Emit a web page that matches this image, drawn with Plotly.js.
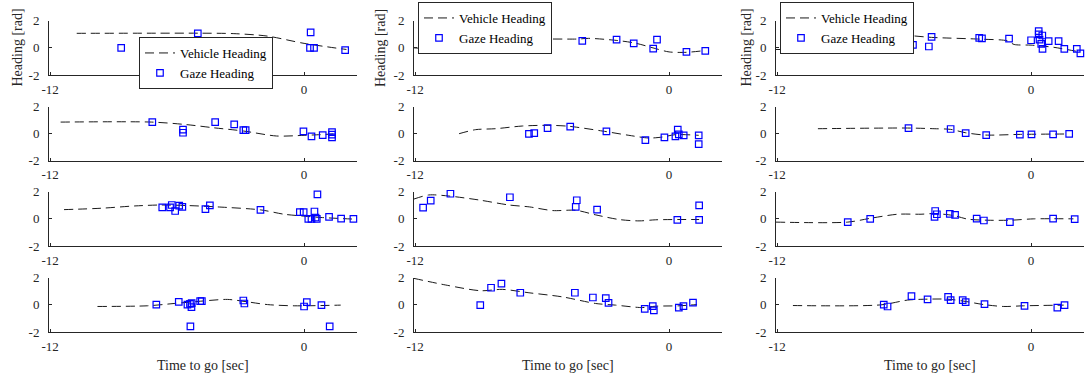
<!DOCTYPE html>
<html>
<head>
<meta charset="utf-8">
<script src="https://cdn.plot.ly/plotly-3.0.1.min.js"></script>
<style>html,body{margin:0;padding:0;background:#fff;}#chart{width:1086px;height:380px;}</style>
</head>
<body>
<div id="chart"></div>
<script>
// ---- Data (time to go [sec], heading [rad]) ----
const xTicks = [-12, 0];
const yTicks = [-2, 0, 2];
const legendNames = ["Vehicle Heading", "Gaze Heading"];

// Row 1
const vehT_1_1 = [-10.74, -7, -5, -3.35, -1.75, 0, 2.0];
const vehH_1_1 = [1.07, 1.08, 1.08, 1.05, 0.87, 0.33, -0.12];
const gazeT_1_1 = [-8.64, -5.02, 0.31, 0.28, 0.47, 1.94];
const gazeH_1_1 = [0, 1.07, 1.14, 0, 0, -0.17];

const vehT_1_2 = [-12.05, -10.2, -8.5, -7.1, -6.3, -4.3, -3.8, -2.5, -1.6, -0.65, 0, 0.8, 1.7];
const vehH_1_2 = [0, -0.15, 0, 0.4, 0.62, 0.65, 0.7, 0.55, 0.35, -0.05, -0.3, -0.33, -0.2];
const gazeT_1_2 = [-7.14, -4.1, -2.48, -1.67, -0.75, -0.57, 0.82, 1.71];
const gazeH_1_2 = [-0.17, 0.52, 0.6, 0.33, -0.05, 0.6, -0.3, -0.22];

const vehT_1_3 = [-12.05, -9.74, -8.97, -7.5, -6.3, -5.8, -4.7, -2.4, -1.13, -0.8, 0, 1.07, 2.3];
const vehH_1_3 = [-0.12, -0.1, 0.07, 0.37, 0.86, 0.9, 0.77, 0.64, 0.52, 0.25, 0.2, 0.04, -0.3];
const gazeT_1_3 = [-9.65, -9.13, -9.05, -8.97, -7.48, -5.58, -4.83, -4.7, -2.45, -2.32, -1.04, 0, 0.36, 0.36, 0.53, 0.4, 0.48, 0.54, 0.83, 1.3, 1.57, 2.16, 2.33];
const gazeH_1_3 = [-0.07, -0.05, -0.1, -0.15, 0.27, 0.22, 0.1, 0.81, 0.73, 0.7, 0.68, 0.56, 1.23, 0.99, 0.91, 0.6, 0.3, -0.07, 0.5, 0.5, -0.07, -0.07, -0.4];

// Row 2
const vehT_2_1 = [-11.5, -7.2, -5.54, -4.28, -2.87, -1.3, 0, 0.76, 1.39];
const vehH_2_1 = [0.86, 0.86, 0.67, 0.44, 0.2, -0.17, -0.12, -0.07, -0.02];
const gazeT_2_1 = [-7.17, -5.72, -5.72, -4.2, -3.3, -2.87, -2.76, -0.03, 0.35, 0.88, 1.32, 1.32, 1.32];
const gazeH_2_1 = [0.86, 0.3, 0.07, 0.86, 0.69, 0.27, 0.27, 0.17, -0.2, -0.1, 0.12, -0.07, -0.27];

const vehT_2_2 = [-9.92, -9.14, -8.2, -6.93, -5.68, -4.73, -3.16, -1.9, -0.96, -0.33, 0.3, 1.4];
const vehH_2_2 = [0, 0.3, 0.37, 0.57, 0.62, 0.55, 0.2, -0.12, -0.32, -0.25, -0.07, -0.12];
const gazeT_2_2 = [-6.62, -6.37, -5.74, -4.67, -2.96, -1.12, -0.22, 0.3, 0.41, 0.46, 0.69, 1.4, 1.4];
const gazeH_2_2 = [-0.02, 0.05, 0.42, 0.52, 0.17, -0.47, -0.27, -0.2, 0.3, -0.05, -0.12, -0.12, -0.77];

const vehT_2_3 = [-10.07, -5.84, -4.58, -3.8, -3.09, -2.15, -0.5, 1.77];
const vehH_2_3 = [0.37, 0.42, 0.37, 0.32, 0.07, -0.1, -0.05, -0.02];
const gazeT_2_3 = [-5.79, -3.8, -3.09, -2.12, -0.53, 0.02, 1.04, 1.8];
const gazeH_2_3 = [0.42, 0.35, 0.05, -0.1, -0.07, -0.05, -0.05, -0.02];

// Row 3
const vehT_3_1 = [-11.34, -9.6, -8.0, -6.77, -5.5, -4.1, -2.05, -0.95, -0.16, 0.8, 2.36];
const vehH_3_1 = [0.68, 0.78, 0.95, 1.02, 0.98, 0.88, 0.66, 0.34, 0.22, 0.1, -0.02];
const gazeT_3_1 = [-6.7, -6.33, -6.25, -6.09, -5.9, -5.75, -4.66, -4.45, -2.06, -0.2, -0.02, 0.2, 0.35, 0.49, 0.54, 0.63, 0.6, 1.18, 1.75, 2.33];
const gazeH_3_1 = [0.85, 0.85, 1.02, 0.58, 0.98, 0.88, 0.71, 1.0, 0.66, 0.49, 0.49, 0, 0, 0.54, 0.1, 1.8, 0, 0.15, 0.02, 0];

const vehT_3_2 = [-12.05, -11.35, -10.4, -8.98, -7.56, -6.6, -5.5, -4.4, -3.46, -2.36, -1.42, -0.63, 0.39, 1.42];
const vehH_3_2 = [1.46, 1.76, 1.68, 1.39, 1.02, 0.88, 0.61, 0.63, 0.29, -0.05, -0.15, -0.07, -0.05, -0.05];
const gazeT_3_2 = [-11.62, -11.26, -10.33, -7.52, -4.41, -4.36, -3.4, 0.39, 1.42, 1.42];
const gazeH_3_2 = [0.83, 1.34, 1.85, 1.59, 0.88, 1.37, 0.68, -0.07, -0.07, 1.0];

const vehT_3_3 = [-12.05, -8.66, -7.56, -6.3, -5.2, -4.58, -3.64, -3.0, -2.07, -0.97, 0.13, 2.0];
const vehH_3_3 = [-0.24, -0.24, 0.05, 0.34, 0.34, 0.39, 0.24, -0.02, -0.1, -0.1, 0, 0];
const gazeT_3_3 = [-8.66, -7.6, -4.53, -4.56, -4.45, -3.84, -3.59, -2.57, -2.23, -1.0, 1.04, 2.06];
const gazeH_3_3 = [-0.24, 0, 0.58, 0.15, 0.34, 0.37, 0.29, 0.02, -0.12, -0.24, 0.02, -0.02];

// Row 4
const vehT_4_1 = [-9.76, -7.4, -6.14, -4.88, -3.62, -2.68, -1.73, -0.47, 1.73];
const vehH_4_1 = [-0.12, -0.07, 0.1, 0.27, 0.4, 0.22, 0.02, -0.07, -0.02];
const gazeT_4_1 = [-6.98, -5.92, -5.51, -5.39, -5.31, -5.32, -5.37, -4.91, -4.83, -2.87, -2.82, 0, 0.13, 0.82, 1.21];
const gazeH_4_1 = [0.02, 0.22, 0.02, 0.07, 0.12, -0.17, -1.58, 0.27, 0.27, 0.32, 0.1, -0.12, 0.2, -0.02, -1.58];

const vehT_4_2 = [-12.05, -10.55, -8.9, -7.88, -6.62, -5.05, -3.47, -2.53, -1.27, -0.64, 0.46, 1.32];
const vehH_4_2 = [1.95, 1.46, 1.04, 1.14, 0.89, 0.59, 0.1, -0.02, -0.2, -0.1, -0.07, 0.02];
const gazeT_4_2 = [-8.92, -8.41, -7.92, -7.03, -4.45, -3.6, -2.99, -2.86, -1.15, -0.77, -0.72, 0.46, 0.68, 1.13];
const gazeH_4_2 = [-0.02, 1.26, 1.56, 0.89, 0.89, 0.54, 0.49, 0.15, -0.3, -0.1, -0.4, -0.2, -0.1, 0.17];

const vehT_4_3 = [-11.25, -7.09, -5.84, -4.9, -3.95, -3.17, -2.23, -1.29, -0.35, 1.54];
const vehH_4_3 = [-0.05, 0, 0.35, 0.42, 0.42, 0.27, 0.02, -0.12, -0.07, -0.02];
const gazeT_4_3 = [-6.96, -6.78, -5.65, -4.89, -3.92, -3.8, -3.23, -3.09, -2.2, -0.31, 1.24, 1.58];
const gazeH_4_3 = [0.02, -0.12, 0.64, 0.4, 0.59, 0.35, 0.35, 0.2, 0.05, -0.07, -0.2, -0.02];

const panels = [
  [vehT_1_1, vehH_1_1, gazeT_1_1, gazeH_1_1], [vehT_1_2, vehH_1_2, gazeT_1_2, gazeH_1_2], [vehT_1_3, vehH_1_3, gazeT_1_3, gazeH_1_3],
  [vehT_2_1, vehH_2_1, gazeT_2_1, gazeH_2_1], [vehT_2_2, vehH_2_2, gazeT_2_2, gazeH_2_2], [vehT_2_3, vehH_2_3, gazeT_2_3, gazeH_2_3],
  [vehT_3_1, vehH_3_1, gazeT_3_1, gazeH_3_1], [vehT_3_2, vehH_3_2, gazeT_3_2, gazeH_3_2], [vehT_3_3, vehH_3_3, gazeT_3_3, gazeH_3_3],
  [vehT_4_1, vehH_4_1, gazeT_4_1, gazeH_4_1], [vehT_4_2, vehH_4_2, gazeT_4_2, gazeH_4_2], [vehT_4_3, vehH_4_3, gazeT_4_3, gazeH_4_3]
];

// ---- Layout geometry (pixels) ----
const W = 1086, H = 380;
const colPx = [[49, 357], [414, 722], [776, 1084]];
const rowPx = [[20.7, 75], [106.7, 160.7], [191.7, 246], [277.7, 332]];
const xRange = [-12.05, 2.5];
const yRange = [-2, 2];
const axisColor = '#262626';
const FONT = '"Liberation Serif", "Times New Roman", serif';

const traces = [];
const layout = {
  width: W, height: H,
  margin: {l: 0, r: 0, t: 0, b: 0},
  paper_bgcolor: '#fff', plot_bgcolor: 'rgba(0,0,0,0)',
  font: {family: FONT, size: 13, color: axisColor},
  annotations: [],
  showlegend: true
};

panels.forEach((p, k) => {
  const r = Math.floor(k / 3), c = k % 3;
  const n = k + 1;
  const xa = 'x' + (n === 1 ? '' : n), ya = 'y' + (n === 1 ? '' : n);
  const legendId = r === 0 ? (c === 0 ? 'legend' : 'legend' + (c + 1)) : 'legend';
  const show = r === 0;
  traces.push({
    x: p[0], y: p[1], xaxis: xa, yaxis: ya, type: 'scatter', mode: 'lines',
    line: {color: '#1a1a1a', width: 1, dash: '9px,5px', shape: 'spline', smoothing: 0.8},
    name: legendNames[0], showlegend: show, legend: legendId, hoverinfo: 'skip'
  });
  traces.push({
    x: p[2], y: p[3], xaxis: xa, yaxis: ya, type: 'scatter', mode: 'markers',
    marker: {symbol: 'square-open', size: 6.5, color: '#0000ff', line: {color: '#0000ff', width: 1.2}},
    name: legendNames[1], showlegend: show, legend: legendId, hoverinfo: 'skip', cliponaxis: false
  });
  const xName = 'xaxis' + (n === 1 ? '' : n), yName = 'yaxis' + (n === 1 ? '' : n);
  layout[xName] = {
    domain: [colPx[c][0] / W, colPx[c][1] / W], anchor: ya, range: xRange,
    tickmode: 'array', tickvals: xTicks, ticktext: xTicks.map(String),
    showline: true, linecolor: axisColor, linewidth: 1, ticks: 'inside', ticklen: 3, tickcolor: axisColor,
    showgrid: false, zeroline: false, tickfont: {family: FONT, size: 13, color: axisColor}, ticklabelstandoff: 2
  };
  layout[yName] = {
    domain: [1 - rowPx[r][1] / H, 1 - rowPx[r][0] / H], anchor: xa, range: yRange,
    tickmode: 'array', tickvals: yTicks, ticktext: yTicks.map(String),
    showline: true, linecolor: axisColor, linewidth: 1, ticks: 'inside', ticklen: 3, tickcolor: axisColor,
    showgrid: false, zeroline: false, tickfont: {family: FONT, size: 13, color: axisColor}, ticklabelstandoff: 6
  };
});

// Legends
const legendBase = {
  bgcolor: '#fff', bordercolor: axisColor, borderwidth: 1,
  font: {family: FONT, size: 13, color: '#000'}, xanchor: 'left', yanchor: 'top',
  tracegroupgap: 0, itemwidth: 30
};
layout.legend = Object.assign({}, legendBase, {x: 139 / W, y: 1 - 37 / H});
layout.legend2 = Object.assign({}, legendBase, {x: 418 / W, y: 1 - 2 / H});
layout.legend3 = Object.assign({}, legendBase, {x: 780 / W, y: 1 - 2 / H});

// Axis titles (as annotations)
const yTitleX = [17.5, 381, 746.5];
const xTitleX = [203, 568, 930];
for (let c = 0; c < 3; c++) {
  layout.annotations.push({
    text: 'Heading [rad]', x: yTitleX[c] / W, y: 1 - 48 / H, xref: 'paper', yref: 'paper',
    textangle: -90, showarrow: false, xanchor: 'center', yanchor: 'middle',
    font: {family: FONT, size: 14, color: axisColor}
  });
  layout.annotations.push({
    text: 'Time to go [sec]', x: xTitleX[c] / W, y: 1 - 365 / H, xref: 'paper', yref: 'paper',
    showarrow: false, xanchor: 'center', yanchor: 'middle',
    font: {family: FONT, size: 14, color: axisColor}
  });
}

Plotly.newPlot('chart', traces, layout, {staticPlot: true, displayModeBar: false});
</script>
</body>
</html>
